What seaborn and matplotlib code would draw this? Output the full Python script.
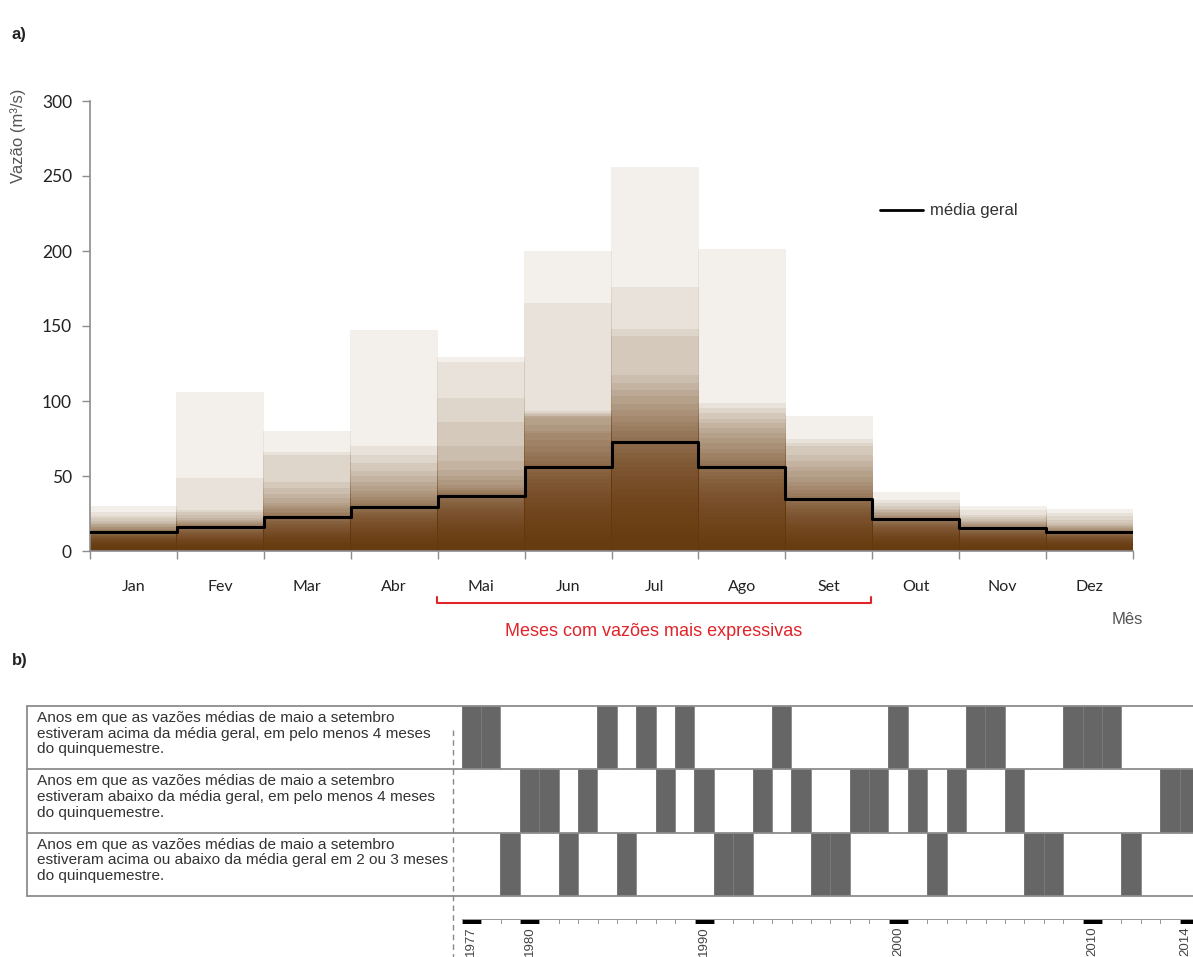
import numpy as np
import pandas as pd
import seaborn as sns
from matplotlib import pyplot as plt
from matplotlib.colors import ListedColormap
from matplotlib.lines import Line2D

meses = ["Jan", "Fev", "Mar", "Abr", "Mai", "Jun", "Jul", "Ago", "Set", "Out", "Nov", "Dez"]

# vazão média de cada mês em cada ano (1977-2014), em ordem decrescente (m³/s)
jan = [29.5, 26, 23, 21.8, 20, 18.6, 18, 17, 16, 15.5, 14.5, 14, 13.5,
       12.6, 12.2, 11.8, 11.4, 11, 10.6, 10.2, 9.8, 9.4, 9, 8.6, 8.2, 7.8,
       7.4, 7, 6.6, 6.2, 5.8, 5.4, 5, 4.6, 4.2, 3.8, 3.4, 3]
fev = [106, 48.4, 27.3, 26, 24, 22, 20.6, 19.5, 19, 18.2, 17.5, 17, 16.6,
       15.8, 15.2, 14.6, 14, 13.4, 12.8, 12.2, 11.6, 11, 10.4, 9.8, 9.2, 8.6,
       8, 7.5, 7, 6.5, 6, 5.5, 5, 4.6, 4.2, 3.8, 3.4, 3]
mar = [80, 66, 64, 46, 41.7, 38, 35, 32, 30.6, 29, 27.5, 26, 25, 24, 23,
       22, 21, 20, 19, 18, 17, 16, 15, 14, 13.2, 12.4, 11.6, 10.8, 10, 9.2,
       8.4, 7.6, 6.8, 6, 5.4, 4.8, 4.2, 3.6]
abr = [147, 69.5, 64, 58.4, 53, 49.5, 46, 42.8, 40, 38, 36, 34, 32.5, 31, 30,
       28.5, 27.2, 26, 24.8, 23.6, 22.4, 21.2, 20, 18.8, 17.6, 16.4, 15.2, 14,
       12.8, 11.6, 10.6, 9.6, 8.6, 7.6, 6.8, 6, 5.2, 4.5]
mai = [129, 126, 101.7, 86, 69.5, 60, 54, 49.5, 47, 44, 42, 40.6, 39.5, 38.5,
       37.5, 36, 34.5, 33, 31.5, 30, 28.5, 27, 25.5, 24, 22.5, 21, 19.5, 18,
       16.5, 15, 13.5, 12, 10.8, 9.6, 8.4, 7.2, 6.2, 5.2]
jun = [200, 165, 92.8, 92, 91, 90, 89.5, 88.4, 84, 80, 78.4, 74, 69.5, 66,
       62.8, 60, 58, 55, 52.5, 50, 47.5, 45, 42.5, 40, 37.5, 35, 32.5, 30,
       27.5, 25, 22.5, 20, 17.5, 15.5, 13.5, 11.5, 9.5, 8]
jul = [256, 176, 147.8, 142.7, 117, 112, 107, 102.7, 98, 94, 89.4, 86, 82.8,
       79.4, 76, 74, 71, 68, 65, 62, 59, 56, 53, 50, 47, 44, 41, 38, 35, 32,
       29, 26, 23, 20, 17.5, 15, 12.5, 10]
ago = [201, 98.3, 95, 91.7, 88, 85, 82, 78.6, 75, 71.7, 68, 65, 62, 59.5,
       57.5, 55, 52.5, 50, 47.5, 45, 42.5, 40, 37.5, 35, 32.5, 30, 27.5, 25,
       22.5, 20, 18, 16, 14, 12, 10, 8.5, 7, 6]
set_ = [90, 74.4, 72, 69.5, 64, 59.5, 56, 52.8, 49, 46, 43, 40.5, 38.5, 36.5,
        35, 33.5, 32, 30.5, 29, 27.5, 26, 24.5, 23, 21.5, 20, 18.5, 17, 15.5,
        14, 12.6, 11.2, 9.8, 8.6, 7.4, 6.4, 5.4, 4.6, 3.8]
out = [38.8, 34, 32, 29.5, 28, 27, 26, 25, 24, 23.2, 22.5, 21.8, 21, 20.3,
       19.6, 18.9, 18.2, 17.5, 16.8, 16.1, 15.4, 14.7, 14, 13.3, 12.6, 11.9,
       11.2, 10.5, 9.8, 9.1, 8.4, 7.7, 7, 6.3, 5.6, 4.9, 4.2, 3.5]
nov = [29.5, 27, 24, 22.5, 21, 20, 19, 18.2, 17.5, 16.8, 16.2, 15.8, 15.2,
       14.7, 14.2, 13.7, 13.2, 12.7, 12.2, 11.7, 11.2, 10.7, 10.2, 9.7, 9.2,
       8.7, 8.2, 7.7, 7.2, 6.7, 6.2, 5.7, 5.2, 4.7, 4.2, 3.7, 3.2, 2.8]
dez = [28, 25, 22.8, 20.5, 18.5, 17.3, 16.5, 15.8, 15, 14.4, 13.8, 13.3,
       12.6, 12.2, 11.8, 11.4, 11, 10.6, 10.2, 9.8, 9.4, 9, 8.6, 8.2, 7.8,
       7.4, 7, 6.6, 6.2, 5.8, 5.4, 5, 4.6, 4.2, 3.8, 3.4, 3, 2.6]

media_geral = [12.8, 16.2, 22.4, 29.1, 36.7, 55.8, 72.4, 56.0, 34.4, 21.3, 15.5, 12.9]

anos = list(range(1977, 2015))
# 1 = acima da média, 2 = abaixo da média, 3 = 2 ou 3 meses, 0 = sem classe
classe_ano = [1, 1, 3, 2, 2, 3, 2, 1, 3, 1, 2, 1, 2, 3, 3, 2, 1, 2, 3, 3,
              2, 2, 1, 2, 3, 2, 1, 1, 2, 3, 3, 1, 1, 1, 3, 0, 2, 2]
rotulos_classe = [
    "Anos em que as vazões médias de maio a setembro\n"
    "estiveram acima da média geral, em pelo menos 4 meses\n"
    "do quinquemestre.",
    "Anos em que as vazões médias de maio a setembro\n"
    "estiveram abaixo da média geral, em pelo menos 4 meses\n"
    "do quinquemestre.",
    "Anos em que as vazões médias de maio a setembro\n"
    "estiveram acima ou abaixo da média geral em 2 ou 3 meses\n"
    "do quinquemestre.",
]
anos_marcados = [1977, 1980, 1990, 2000, 2010, 2014]
pos_marcados = [0, 3, 12, 22, 32, 37]

W, H = 1193, 957
MARROM = "#66370a"
CINZA = "#8c8c8c"
VERMELHO = "#e0242a"
# posição (px) da primeira célula de ano e largura de cada célula
X0_ANOS, DX_ANO = 461.7, 19.4


def fx(x):
    return x / W


def fy(y):
    return 1 - y / H


def plot_vazoes(fig):
    ax = fig.add_axes([fx(90), fy(551), (1133 - 90) / W, 450 / H])
    colunas = [jan, fev, mar, abr, mai, jun, jul, ago, set_, out, nov, dez]
    df = pd.DataFrame(
        {
            "mes": np.repeat(meses, len(anos)),
            "ordem": np.tile(np.arange(len(anos)), len(meses)),
            "vazao": np.concatenate(colunas),
        }
    )
    # cada ano é uma barra translúcida; a sobreposição forma o degradê
    for _, sub in df.groupby("ordem"):
        sns.barplot(
            data=sub, x="mes", y="vazao", order=meses, color=MARROM,
            saturation=1, alpha=0.075, width=1.0, linewidth=0,
            antialiased=False, snap=False, errorbar=None, ax=ax,
        )

    bordas = np.arange(len(meses) + 1) - 0.5
    ax.step(bordas, media_geral + [media_geral[-1]], where="post",
            color="black", lw=2.2, zorder=5)

    ax.set_xlim(-0.5, 11.5)
    ax.set_ylim(0, 300)
    ax.set_xlabel("")
    ax.set_ylabel("")
    ax.set_yticks(range(0, 301, 50))
    ax.set_xticks(bordas)
    ax.set_xticklabels([])
    ax.set_xticks(range(len(meses)), minor=True)
    ax.set_xticklabels(meses, minor=True, family="Lato", fontsize=11.5, color="#222")
    for lab in ax.get_yticklabels():
        lab.set_family("Lato")
    ax.tick_params(axis="y", length=6, width=1, color=CINZA, pad=7,
                   labelsize=12.5, labelcolor="#222", left=True)
    ax.tick_params(axis="x", which="major", length=6, width=1, color=CINZA,
                   bottom=True)
    ax.tick_params(axis="x", which="minor", length=0, pad=21)
    for s in ["top", "right"]:
        ax.spines[s].set_visible(False)
    for s in ["left", "bottom"]:
        ax.spines[s].set_color(CINZA)
        ax.spines[s].set_linewidth(1.2)

    fig.text(fx(18), fy(136), "Vazão (m³/s)", rotation=90, ha="center",
             va="center", fontsize=12, color="#555")
    fig.text(fx(12), fy(35), "a)", ha="left", va="center", fontsize=12,
             fontweight="bold", color="#222")

    # legenda
    fig.add_artist(Line2D([fx(880), fx(923)], [fy(210), fy(210)],
                          color="black", lw=2))
    fig.text(fx(930), fy(210), "média geral", ha="left", va="center",
             fontsize=12, color="#333")

    fig.text(fx(1127), fy(620), "Mês", ha="center", va="center",
             fontsize=12, color="#555")

    # colchete dos meses mais expressivos
    fig.add_artist(Line2D([fx(437), fx(437), fx(871), fx(871)],
                          [fy(597), fy(603), fy(603), fy(597)],
                          color=VERMELHO, lw=1.5))
    fig.text(fx(654), fy(632), "Meses com vazões mais expressivas",
             ha="center", va="center", fontsize=13, color=VERMELHO)


def plot_classes(fig):
    ax = fig.add_axes([fx(27), fy(896), (W - 27) / W, (896 - 706) / H])
    matriz = np.array([[1 if c == k else 0 for c in classe_ano] for k in (1, 2, 3)])
    sns.heatmap(
        matriz, mask=matriz == 0, cmap=ListedColormap(["#666666"]), vmin=0,
        vmax=1, cbar=False, linewidths=0, xticklabels=False,
        yticklabels=False, ax=ax,
    )
    # divisões discretas entre anos escuros vizinhos
    for lin, col in zip(*np.nonzero(matriz)):
        ax.vlines([col, col + 1], lin, lin + 1, color="#7a7a7a", lw=0.6)

    x_esq = (27 - X0_ANOS) / DX_ANO
    x_dir = (W - X0_ANOS) / DX_ANO
    ax.set_xlim(x_esq, x_dir)
    ax.set_ylim(3, 0)
    ax.axis("off")
    for y in range(4):
        ax.plot([x_esq, x_dir], [y, y], color=CINZA, lw=1.3, clip_on=False)
    ax.plot([x_esq, x_esq], [0, 3], color=CINZA, lw=1.3, clip_on=False)

    x_txt = (37 - X0_ANOS) / DX_ANO
    for i, rotulo in enumerate(rotulos_classe):
        ax.text(x_txt, i + 0.08, rotulo, ha="left", va="top", fontsize=11.1,
                color="#333", linespacing=1.15)

    fig.add_artist(Line2D([fx(453), fx(453)], [fy(730), fy(957)],
                          color="#888", lw=1, ls=(0, (4, 3))))

    fig.text(fx(12), fy(660), "b)", ha="left", va="center", fontsize=12,
             fontweight="bold", color="#222")

    # régua de anos
    ax_r = fig.add_axes([fx(X0_ANOS), fy(923.5), (W - X0_ANOS) / W, 5 / H])
    regua = np.zeros((1, len(anos)))
    regua[0, pos_marcados] = 1
    sns.heatmap(regua, cmap=ListedColormap(["white", "black"]), cbar=False,
                linewidths=0.6, linecolor="#999", xticklabels=False,
                yticklabels=False, ax=ax_r)
    ax_r.set_xlim(0, (W - X0_ANOS) / DX_ANO)
    ax_r.axis("off")
    for ano, p in zip(anos_marcados, pos_marcados):
        x = min(X0_ANOS + DX_ANO * (p + 0.5), 1185)
        fig.text(fx(x), fy(926), str(ano), rotation=90, ha="center",
                 va="top", fontsize=9.5, color="#444")


def main():
    sns.set_style("white")
    plt.rcParams["font.family"] = ["Liberation Sans", "DejaVu Sans"]
    fig = plt.figure(figsize=(W / 100, H / 100), dpi=100)
    plot_vazoes(fig)
    plot_classes(fig)
    fig.savefig("out.png", dpi=100)


if __name__ == "__main__":
    main()
